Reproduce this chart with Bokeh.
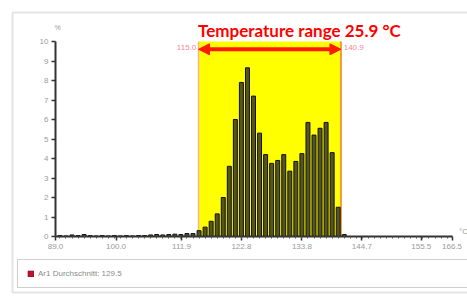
import numpy as np
from bokeh.plotting import figure
from bokeh.models import (Range1d, FixedTicker, Label, Arrow, NormalHead,
                          PolyAnnotation, Legend, LegendItem, ColumnDataSource)
from bokeh.embed import file_html
from bokeh.resources import INLINE

# ---------------- data ----------------
temps = [89.8, 90.9, 92.0, 93.1, 94.2, 95.3, 96.4, 97.5, 98.6, 99.7, 100.8, 101.9,
         103.0, 104.1, 105.2, 106.3, 107.4, 108.5, 109.6, 110.7, 111.8, 112.9,
         114.0, 115.1, 116.2, 117.3, 118.4, 119.5, 120.6, 121.7, 122.8, 123.9,
         125.0, 126.1, 127.2, 128.3, 129.4, 130.5, 131.6, 132.7, 133.8, 134.9,
         136.0, 137.1, 138.2, 139.3, 140.4, 141.5]
pct = [0.05, 0.03, 0.08, 0.05, 0.10, 0.05, 0.03, 0.05, 0.03, 0.05, 0.03, 0.05,
       0.03, 0.05, 0.05, 0.08, 0.10, 0.08, 0.10, 0.12, 0.10, 0.15,
       0.15, 0.30, 0.48, 0.78, 1.16, 2.00, 3.60, 6.00, 7.90, 8.65,
       7.20, 5.30, 4.20, 3.75, 3.90, 4.20, 3.35, 3.85, 4.25, 5.85,
       5.20, 5.55, 5.85, 4.30, 1.50, 0.10]
range_lo = 115.0
range_hi = 140.9
average = 129.5
x_min, x_max = 89.0, 161.18
xtick_vals = [89.0, 100.0, 111.9, 122.8, 133.8, 144.7, 155.5, 161.1]
xtick_labels = ["89.0", "100.0", "111.9", "122.8", "133.8", "144.7", "155.5", "166.5"]
ytick_vals = [0, 1, 2, 3, 4, 5, 6, 7, 8, 9, 10]

W, H = 467, 297

# ---------------- page-pixel helpers for layout / decorations ----------------
def px_x(X):
    return 115.0 + (X - 198.0) / 5.5

def px_y(Y):
    return (236.0 - Y) / 19.5

p = figure(width=W, height=H, output_backend="svg", toolbar_location=None,
           x_range=Range1d(px_x(0), px_x(W)), y_range=Range1d(px_y(H), px_y(0)),
           min_border=0)
p.xgrid.visible = False
p.ygrid.visible = False
p.outline_line_color = None
p.background_fill_color = "white"
p.border_fill_color = "white"

# temperature range band
p.quad(left=[range_lo], right=[range_hi], bottom=[0], top=[10],
       fill_color="#ffff00", line_color=None)
p.segment(x0=[range_lo, range_hi], y0=[0, 0], x1=[range_lo, range_hi], y1=[10, 10],
          line_color=["#f6b48a", "#f39a3c"], line_width=[1.5, 2])

# histogram bars
src = ColumnDataSource(dict(t=temps, v=pct))
p.vbar(x="t", top="v", width=0.72, source=src, fill_color="#55551c",
       line_color="#111111", line_width=1)

# average (legend only)
r_avg = p.rect(x=[average], y=[np.nan], width=1, height=1,
               fill_color="#c8102e", line_color="#8a0018", line_width=1)

# axes placed at data positions
minor = [round(v, 1) for v in np.arange(89.8, 161.0, 1.1)]
p.xaxis.fixed_location = 0
p.yaxis.fixed_location = x_min
p.xaxis.bounds = (x_min, x_max)
p.yaxis.bounds = (0, 10)
p.xaxis.ticker = FixedTicker(ticks=xtick_vals, minor_ticks=minor)
p.xaxis.major_label_overrides = {v: s for v, s in zip(xtick_vals, xtick_labels)}
p.yaxis.ticker = FixedTicker(ticks=ytick_vals, minor_ticks=[])
for ax in (p.xaxis[0], p.yaxis[0]):
    ax.axis_line_color = "#333333"
    ax.axis_line_width = 2
    ax.major_tick_line_color = "#333333"
    ax.major_tick_line_width = 1.5
    ax.major_tick_in = 0
    ax.major_tick_out = 4
    ax.minor_tick_line_color = "#555555"
    ax.minor_tick_in = 0
    ax.minor_tick_out = 2
    ax.major_label_text_color = "#9a9a9a"
    ax.major_label_text_font = "Liberation Sans"
    ax.major_label_text_font_size = "8px"
    ax.major_label_standoff = 3

# unit labels
p.add_layout(Label(x=px_x(57), y=px_y(27), text="%", text_align="center",
                   text_baseline="middle", text_font_size="7px", text_color="#9a9a9a",
                   text_font="Liberation Sans"))
p.add_layout(Label(x=px_x(463), y=px_y(231), text="°C", text_align="center",
                   text_baseline="middle", text_font_size="8px", text_color="#9a9a9a",
                   text_font="Liberation Sans"))

# range annotation
red = "#ff1a00"
p.add_layout(Arrow(x_start=range_lo, y_start=9.6, x_end=range_hi, y_end=9.6,
                   line_color=red, line_width=4,
                   start=NormalHead(size=11, fill_color=red, line_color=red),
                   end=NormalHead(size=11, fill_color=red, line_color=red)))
p.add_layout(Label(x=range_lo - 0.4, y=9.7, text=f"{range_lo:.1f}", text_align="right",
                   text_baseline="middle", text_font_size="8px", text_color="#f08a94",
                   text_font="Liberation Sans"))
p.add_layout(Label(x=range_hi + 0.5, y=9.7, text=f"{range_hi:.1f}", text_align="left",
                   text_baseline="middle", text_font_size="8px", text_color="#f08a94",
                   text_font="Liberation Sans"))
p.add_layout(Label(x=px_x(301), y=px_y(30),
                   text=f"Temperature range  {range_hi - range_lo:.1f} °C",
                   text_align="center", text_baseline="middle", text_font="Lato",
                   text_font_style="bold", text_font_size="17px", text_color="#ff0000"))

# outer frame
p.add_layout(PolyAnnotation(xs=[px_x(12), px_x(490), px_x(490), px_x(12)],
                            ys=[px_y(12), px_y(12), px_y(292), px_y(292)],
                            fill_alpha=0, line_color="#a8a8a8", line_width=2))

# legend
legend = Legend(items=[LegendItem(label=f"Ar1 Durchschnitt: {average}", renderers=[r_avg])],
                location=(17, 9), border_line_color="#a0a0a0", border_line_width=1.5,
                padding=9, spacing=0, margin=0, glyph_width=7, glyph_height=7,
                label_height=8, label_width=450, label_standoff=4,
                label_text_font="Liberation Sans", label_text_font_size="8px",
                label_text_color="#8a8a8a", background_fill_color="white")
p.add_layout(legend)

open("out.html", "w").write(file_html(p, INLINE))
